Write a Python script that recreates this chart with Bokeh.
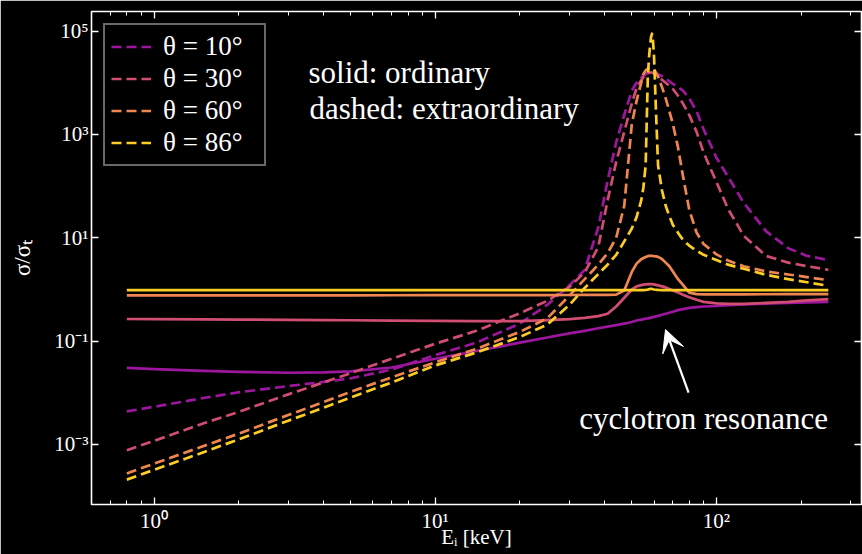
from bokeh.plotting import figure
from bokeh.models import (Legend, LegendItem, FixedTicker, LogAxis, CustomJSTickFormatter,
                          Label, Arrow, VeeHead, Range1d)
from bokeh.embed import file_html
from bokeh.resources import INLINE

# Photon energy grid (keV)
energy_kev = [0.8, 1, 1.5, 2, 3, 4, 5, 7, 10, 14, 20, 25, 30, 34, 38, 41, 44, 47, 50, 52,
              54, 55, 56, 57, 57.5, 58, 58.5, 59, 59.5, 60, 61, 62, 64, 66, 68, 70, 73, 76,
              80, 85, 90, 100, 110, 125, 150, 180, 210, 250]

# Cross sections, given as log10(sigma / sigma_T)
# ordinary mode (solid)
log_o_10 = [-1.518, -1.54, -1.575, -1.595, -1.612, -1.605, -1.585, -1.51, -1.34, -1.19,
            -1.03, -0.93, -0.85, -0.80, -0.75, -0.72, -0.69, -0.66, -0.63, -0.60,
            -0.585, -0.575, -0.565, -0.56, -0.555, -0.55, -0.545, -0.54, -0.535, -0.53,
            -0.52, -0.51, -0.49, -0.47, -0.45, -0.43, -0.40, -0.38, -0.355, -0.34,
            -0.33, -0.32, -0.305, -0.29, -0.275, -0.26, -0.25, -0.24]
log_o_30 = [-0.571, -0.573, -0.578, -0.582, -0.588, -0.592, -0.596, -0.602, -0.608, -0.612,
            -0.612, -0.595, -0.575, -0.55, -0.515, -0.47, -0.33, -0.16, 0.0, 0.06,
            0.085, 0.095, 0.10, 0.105, 0.105, 0.105, 0.105, 0.103, 0.10, 0.098,
            0.09, 0.08, 0.06, 0.04, 0.01, -0.02, -0.06, -0.10, -0.15, -0.20,
            -0.24, -0.27, -0.28, -0.28, -0.26, -0.24, -0.21, -0.185]
log_o_60 = [-0.115, -0.115, -0.115, -0.115, -0.114, -0.114, -0.113, -0.112, -0.111, -0.110,
            -0.109, -0.108, -0.107, -0.106, -0.105, -0.104, -0.10, -0.02, 0.34, 0.50,
            0.585, 0.61, 0.63, 0.645, 0.65, 0.652, 0.652, 0.65, 0.648, 0.645,
            0.64, 0.63, 0.59, 0.52, 0.45, 0.35, 0.20, 0.09, -0.06, -0.09,
            -0.095, -0.095, -0.094, -0.093, -0.092, -0.091, -0.09, -0.09]
log_o_86 = [-0.012, -0.012, -0.012, -0.012, -0.012, -0.012, -0.012, -0.012, -0.012, -0.012,
            -0.012, -0.012, -0.012, -0.012, -0.012, -0.012, -0.012, -0.012, -0.012, -0.012,
            -0.012, -0.011, -0.008, -0.002, 0.004, 0.010, 0.012, 0.010, 0.005, 0.0,
            -0.006, -0.009, -0.011, -0.011, -0.011, -0.011, -0.011, -0.011, -0.011, -0.011,
            -0.011, -0.011, -0.011, -0.011, -0.011, -0.011, -0.011, -0.011]
# extraordinary mode (dashed)
log_x_10 = [-2.36, -2.27, -2.10, -1.99, -1.87, -1.79, -1.72, -1.55, -1.27, -1.03,
            -0.66, -0.30, 0.08, 0.38, 1.20, 2.10, 2.85, 3.38, 3.85, 4.00,
            4.10, 4.14, 4.17, 4.19, 4.20, 4.20, 4.20, 4.20, 4.20, 4.19,
            4.18, 4.16, 4.13, 4.08, 4.03, 3.98, 3.92, 3.85, 3.70, 3.45,
            3.10, 2.55, 2.18, 1.68, 1.13, 0.80, 0.65, 0.57]
log_x_30 = [-3.11, -2.93, -2.59, -2.37, -2.03, -1.80, -1.62, -1.34, -1.05, -0.80,
            -0.46, -0.22, 0.05, 0.33, 0.82, 1.72, 2.47, 3.05, 3.60, 3.90,
            4.05, 4.11, 4.15, 4.18, 4.19, 4.20, 4.20, 4.20, 4.19, 4.18,
            4.15, 4.12, 4.06, 4.00, 3.94, 3.88, 3.75, 3.60, 3.38, 3.05,
            2.65, 2.08, 1.56, 1.04, 0.65, 0.52, 0.45, 0.38]
log_x_60 = [-3.56, -3.37, -3.03, -2.79, -2.43, -2.18, -1.98, -1.70, -1.41, -1.15,
            -0.82, -0.56, -0.12, 0.20, 0.48, 0.70, 1.00, 1.62, 3.20, 3.65,
            4.00, 4.17, 4.24, 4.27, 4.28, 4.29, 4.29, 4.28, 4.27, 4.25,
            4.20, 4.12, 3.92, 3.70, 3.45, 3.20, 2.75, 2.20, 1.55, 1.10,
            0.88, 0.68, 0.56, 0.45, 0.35, 0.29, 0.24, 0.18]
log_x_86 = [-3.68, -3.49, -3.15, -2.90, -2.54, -2.29, -2.09, -1.80, -1.47, -1.22,
            -0.92, -0.68, -0.30, 0.03, 0.30, 0.48, 0.67, 0.93, 1.18, 1.40,
            1.72, 1.98, 2.40, 4.10, 4.45, 4.70, 4.88, 4.95, 4.80, 4.50,
            3.40, 2.40, 1.92, 1.62, 1.42, 1.25, 1.10, 0.96, 0.85, 0.75,
            0.67, 0.57, 0.48, 0.40, 0.285, 0.20, 0.14, 0.07]

angles = ["θ = 10°", "θ = 30°", "θ = 60°", "θ = 86°"]
colors = ["#9c179e", "#d14e72", "#ef8650", "#fccd25"]
ordinary = [log_o_10, log_o_30, log_o_60, log_o_86]
extraordinary = [log_x_10, log_x_30, log_x_60, log_x_86]

x_major = [1, 10, 100]
x_major_labels = ["10⁰", "10¹", "10²"]
x_minor = [0.7, 0.8, 0.9, 2, 3, 4, 5, 6, 7, 8, 9, 20, 30, 40, 50, 60, 70, 80, 90, 200, 300]
y_major = [1e-3, 1e-1, 1e1, 1e3, 1e5]
y_major_labels = ["10⁻³", "10⁻¹", "10¹", "10³", "10⁵"]

FONT = "Liberation Serif"

p = figure(width=862, height=554, x_axis_type="log", y_axis_type="log",
           x_range=Range1d(0.599, 328), y_range=Range1d(6.89e-5, 2.40e5),
           output_backend="svg", toolbar_location=None,
           min_border_left=91, min_border_right=1, min_border_top=11, min_border_bottom=50,
           background_fill_color="black", border_fill_color="black")
p.grid.visible = False
p.outline_line_color = "white"
p.outline_line_width = 1.6

label_js = """
for (let i = 0; i < vals.length; i++) {
    if (Math.abs(Math.log10(vals[i]) - Math.log10(tick)) < 1e-6) return labs[i];
}
return '';
"""


def style_axis(ax, show_labels):
    ax.axis_line_color = None
    ax.major_tick_line_color = "white"
    ax.major_tick_line_width = 1.3
    ax.major_tick_in = 7
    ax.major_tick_out = 0
    ax.minor_tick_line_color = "white"
    ax.minor_tick_line_width = 1.0
    ax.minor_tick_in = 4
    ax.minor_tick_out = 0
    ax.major_label_text_color = "white"
    ax.major_label_text_font = FONT
    ax.major_label_text_font_size = "21px"
    ax.axis_label_text_color = "white"
    ax.axis_label_text_font = FONT
    ax.axis_label_text_font_style = "normal"
    if not show_labels:
        ax.formatter = CustomJSTickFormatter(code="return '';")
        ax.major_label_standoff = 0


xb = p.xaxis[0]
xb.ticker = FixedTicker(ticks=x_major, minor_ticks=x_minor)
xb.formatter = CustomJSTickFormatter(args=dict(vals=x_major, labs=x_major_labels), code=label_js)
style_axis(xb, True)
xb.major_label_standoff = 4
xb.axis_label = "Eᵢ [keV]"
xb.axis_label_standoff = -11
xb.axis_label_text_font_size = "21px"

yl = p.yaxis[0]
yl.ticker = FixedTicker(ticks=y_major, minor_ticks=[])
yl.formatter = CustomJSTickFormatter(args=dict(vals=y_major, labs=y_major_labels), code=label_js)
style_axis(yl, True)
yl.major_label_standoff = 3
yl.axis_label = "σ/σₜ"
yl.axis_label_standoff = 16
yl.axis_label_text_font_size = "23px"

xt = LogAxis(ticker=FixedTicker(ticks=x_major, minor_ticks=x_minor))
style_axis(xt, False)
p.add_layout(xt, "above")
yr = LogAxis(ticker=FixedTicker(ticks=y_major, minor_ticks=[]))
style_axis(yr, False)
p.add_layout(yr, "right")

items = []
for name, col, so, sx in zip(angles, colors, ordinary, extraordinary):
    p.line(energy_kev, [10 ** v for v in so], line_color=col, line_width=2.7,
           line_join="round")
    r = p.line(energy_kev, [10 ** v for v in sx], line_color=col, line_width=2.7,
               line_dash="10 5", line_join="round")
    items.append(LegendItem(label=name, renderers=[r]))

legend = Legend(items=items, location="top_left", margin=12, padding=6,
                spacing=1, glyph_width=40, glyph_height=27, label_height=27,
                label_width=95, label_standoff=12, label_text_font=FONT,
                label_text_font_size="27px", label_text_color="white",
                background_fill_color="black", background_fill_alpha=1.0,
                border_line_color="#d0d0d0", border_line_width=2)
p.add_layout(legend)

# annotations
txt = dict(text_font=FONT, text_color="white", text_font_size="31px",
           text_baseline="middle")
p.add_layout(Label(x=3.54, y=1.58e4, text="solid: ordinary", text_align="left", **txt))
p.add_layout(Label(x=3.57, y=3.19e3, text="dashed: extraordinary", text_align="left", **txt))
p.add_layout(Label(x=90.0, y=3.18e-3, text="cyclotron resonance", text_align="center", **txt))

p.add_layout(Arrow(end=VeeHead(size=22, fill_color="white", line_color="white"),
                   x_start=79.6, y_start=1.01e-2, x_end=65.9, y_end=0.168,
                   line_color="white", line_width=2.2))

open("out.html", "w").write(file_html(p, INLINE))
